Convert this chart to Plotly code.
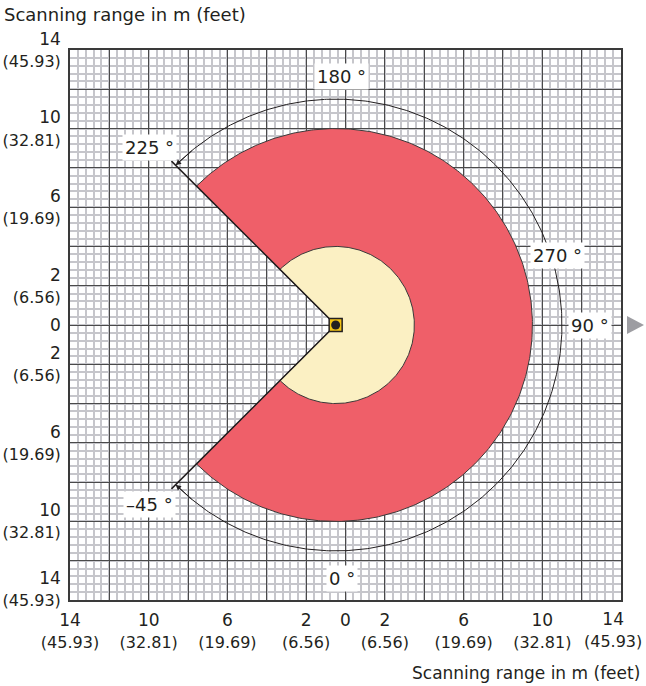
import numpy as np
import plotly.graph_objects as go

# ---------------- data ----------------
grid_ticks_m = list(range(-14, 15, 2))
label_m = [0, 2, 6, 10, 14]
label_ft = ["", "6.56", "19.69", "32.81", "45.93"]

sensor_x = -0.5
sensor_y = 0.0
scan_start_deg = -45      # scanner angle convention (0° = down, 90° = right)
scan_end_deg = 225
field_red_radius = 10.0
field_yellow_radius = 4.0
angle_arc_radius = 11.5
edge_line_radius = 11.8

angle_labels = ["180 °", "225 °", "270 °", "90 °", "–45 °", "0 °"]

# ---------------- helpers ----------------
FONT = "DejaVu Sans"
TXT = "#231f20"
NB = "\u00a0"
PLOT_L, PLOT_W, PLOT_B, PLOT_H = 70, 551, 600, 550   # plot area in page pixels


def px_x(p):
    return (p - PLOT_L) / PLOT_W


def px_y(p):
    return (PLOT_B - p) / PLOT_H


def to_math(deg):
    return np.deg2rad(np.asarray(deg, dtype=float) - 90.0)


def two_line(a):
    ft = label_ft[label_m.index(a)]
    if ft == "":
        return str(a)
    return f"{a}<br><span style='font-size:16px'>({ft})</span>"


def tick_text(v, axis):
    a = abs(v)
    if a not in label_m:
        return ""
    if axis == "x" and v == 14:
        return ""          # drawn separately, pulled inside the page edge
    txt = two_line(a)
    if axis == "y" and v == -14:
        txt += "<br>" + NB
    return txt


xticktext = [tick_text(v, "x") for v in grid_ticks_m]
yticktext = [tick_text(v, "y") for v in grid_ticks_m]


def sector(radius):
    th = to_math(np.linspace(scan_start_deg, scan_end_deg, 400))
    xs = np.concatenate([[sensor_x], sensor_x + radius * np.cos(th), [sensor_x]])
    ys = np.concatenate([[sensor_y], sensor_y + radius * np.sin(th), [sensor_y]])
    return xs, ys


fig = go.Figure()

# red field
xr, yr = sector(field_red_radius)
fig.add_trace(go.Scatter(x=xr, y=yr, mode="lines", fill="toself",
                         fillcolor="#ef5f69", line=dict(color="#3a3a3a", width=1),
                         hoverinfo="skip"))
# yellow field
xy, yy = sector(field_yellow_radius)
fig.add_trace(go.Scatter(x=xy, y=yy, mode="lines", fill="toself",
                         fillcolor="#fbf0c3", line=dict(color="#3a3a3a", width=1),
                         hoverinfo="skip"))

# radial edge lines
for ang in (scan_start_deg, scan_end_deg):
    t = to_math(ang)
    fig.add_trace(go.Scatter(
        x=[sensor_x, sensor_x + edge_line_radius * np.cos(t)],
        y=[sensor_y, sensor_y + edge_line_radius * np.sin(t)],
        mode="lines", line=dict(color="#231f20", width=1.5), hoverinfo="skip"))

# angle arc
th = to_math(np.linspace(scan_start_deg, scan_end_deg, 500))
fig.add_trace(go.Scatter(x=sensor_x + angle_arc_radius * np.cos(th),
                         y=sensor_y + angle_arc_radius * np.sin(th),
                         mode="lines", line=dict(color="#231f20", width=1),
                         hoverinfo="skip"))

# sensor symbol
fig.add_trace(go.Scatter(x=[sensor_x], y=[sensor_y], mode="markers",
                         marker=dict(symbol="square", size=13, color="#f4c414",
                                     line=dict(color="#231f20", width=1.5)),
                         hoverinfo="skip"))
fig.add_trace(go.Scatter(x=[sensor_x], y=[sensor_y], mode="markers",
                         marker=dict(symbol="circle", size=9, color="#231f20"),
                         hoverinfo="skip"))

annotations = []
# arrowheads at both ends of the arc
for ang, back in ((scan_end_deg, -6), (scan_start_deg, 6)):
    t = to_math(ang)
    tb = to_math(ang + back)
    annotations.append(dict(
        x=sensor_x + angle_arc_radius * np.cos(t), y=sensor_y + angle_arc_radius * np.sin(t),
        ax=sensor_x + angle_arc_radius * np.cos(tb), ay=sensor_y + angle_arc_radius * np.sin(tb),
        xref="x", yref="y", axref="x", ayref="y", showarrow=True,
        arrowhead=2, arrowsize=1.1, arrowwidth=1, arrowcolor="#231f20", text=""))

label_pos = [(-0.18, 12.64), (-9.94, 9.06), (10.79, 3.56), (12.42, -0.05),
             (-9.94, -9.16), (-0.18, -12.88)]
for txt, (lx, ly) in zip(angle_labels, label_pos):
    annotations.append(dict(x=lx, y=ly, xref="x", yref="y", text=txt, showarrow=False,
                            bgcolor="white", borderpad=2,
                            font=dict(family=FONT, size=18, color=TXT)))

# rightmost x tick label, pulled slightly inward as in the reference
annotations.append(dict(x=px_x(613), y=px_y(609), xref="paper", yref="paper",
                        xanchor="center", yanchor="top", showarrow=False,
                        text=two_line(14), borderpad=0, borderwidth=0,
                        font=dict(family=FONT, size=17, color=TXT)))

annotations.append(dict(x=px_x(4), y=px_y(15), xref="paper", yref="paper",
                        xanchor="left", yanchor="middle", showarrow=False,
                        text="Scanning range in m (feet)", borderpad=0, borderwidth=0,
                        font=dict(family=FONT, size=18, color=TXT)))
annotations.append(dict(x=px_x(640), y=px_y(673), xref="paper", yref="paper",
                        xanchor="right", yanchor="middle", showarrow=False,
                        text="Scanning range in m (feet)", borderpad=0, borderwidth=0,
                        font=dict(family=FONT, size=17, color=TXT)))

# direction indicator triangle (outside the plot, on the right)
tri = (f"M {px_x(627)},{px_y(316)} L {px_x(644)},{px_y(325)} "
       f"L {px_x(627)},{px_y(334)} Z")
shapes = [dict(type="path", xref="paper", yref="paper", path=tri,
               fillcolor="#9d9da2", line=dict(width=0))]

axis_common = dict(
    range=[-14, 14], tickmode="array", tickvals=grid_ticks_m,
    showgrid=True, gridcolor="#4a4a4a", gridwidth=1.2, zeroline=False,
    showline=True, linecolor="#3a3a3a", linewidth=1.5, mirror=True,
    ticks="outside", ticklen=4, tickcolor="rgba(0,0,0,0)",
    ticklabeloverflow="allow",
    tickfont=dict(family=FONT, size=17, color=TXT),
    minor=dict(dtick=0.4, showgrid=True, gridcolor="#c6c6cb", gridwidth=1.5),
    fixedrange=True, automargin=False,
)

fig.update_layout(
    width=646, height=686,
    margin=dict(l=70, r=25, t=50, b=86),
    paper_bgcolor="white", plot_bgcolor="white",
    showlegend=False,
    xaxis=dict(ticktext=xticktext, **axis_common),
    yaxis=dict(ticktext=yticktext, **axis_common),
    annotations=annotations,
    shapes=shapes,
)

fig.write_html(
    "out.html",
    config={"displayModeBar": False},
    post_script="document.body.style.margin='0';document.body.style.padding='0';"
                "document.body.style.overflow='hidden';",
)
